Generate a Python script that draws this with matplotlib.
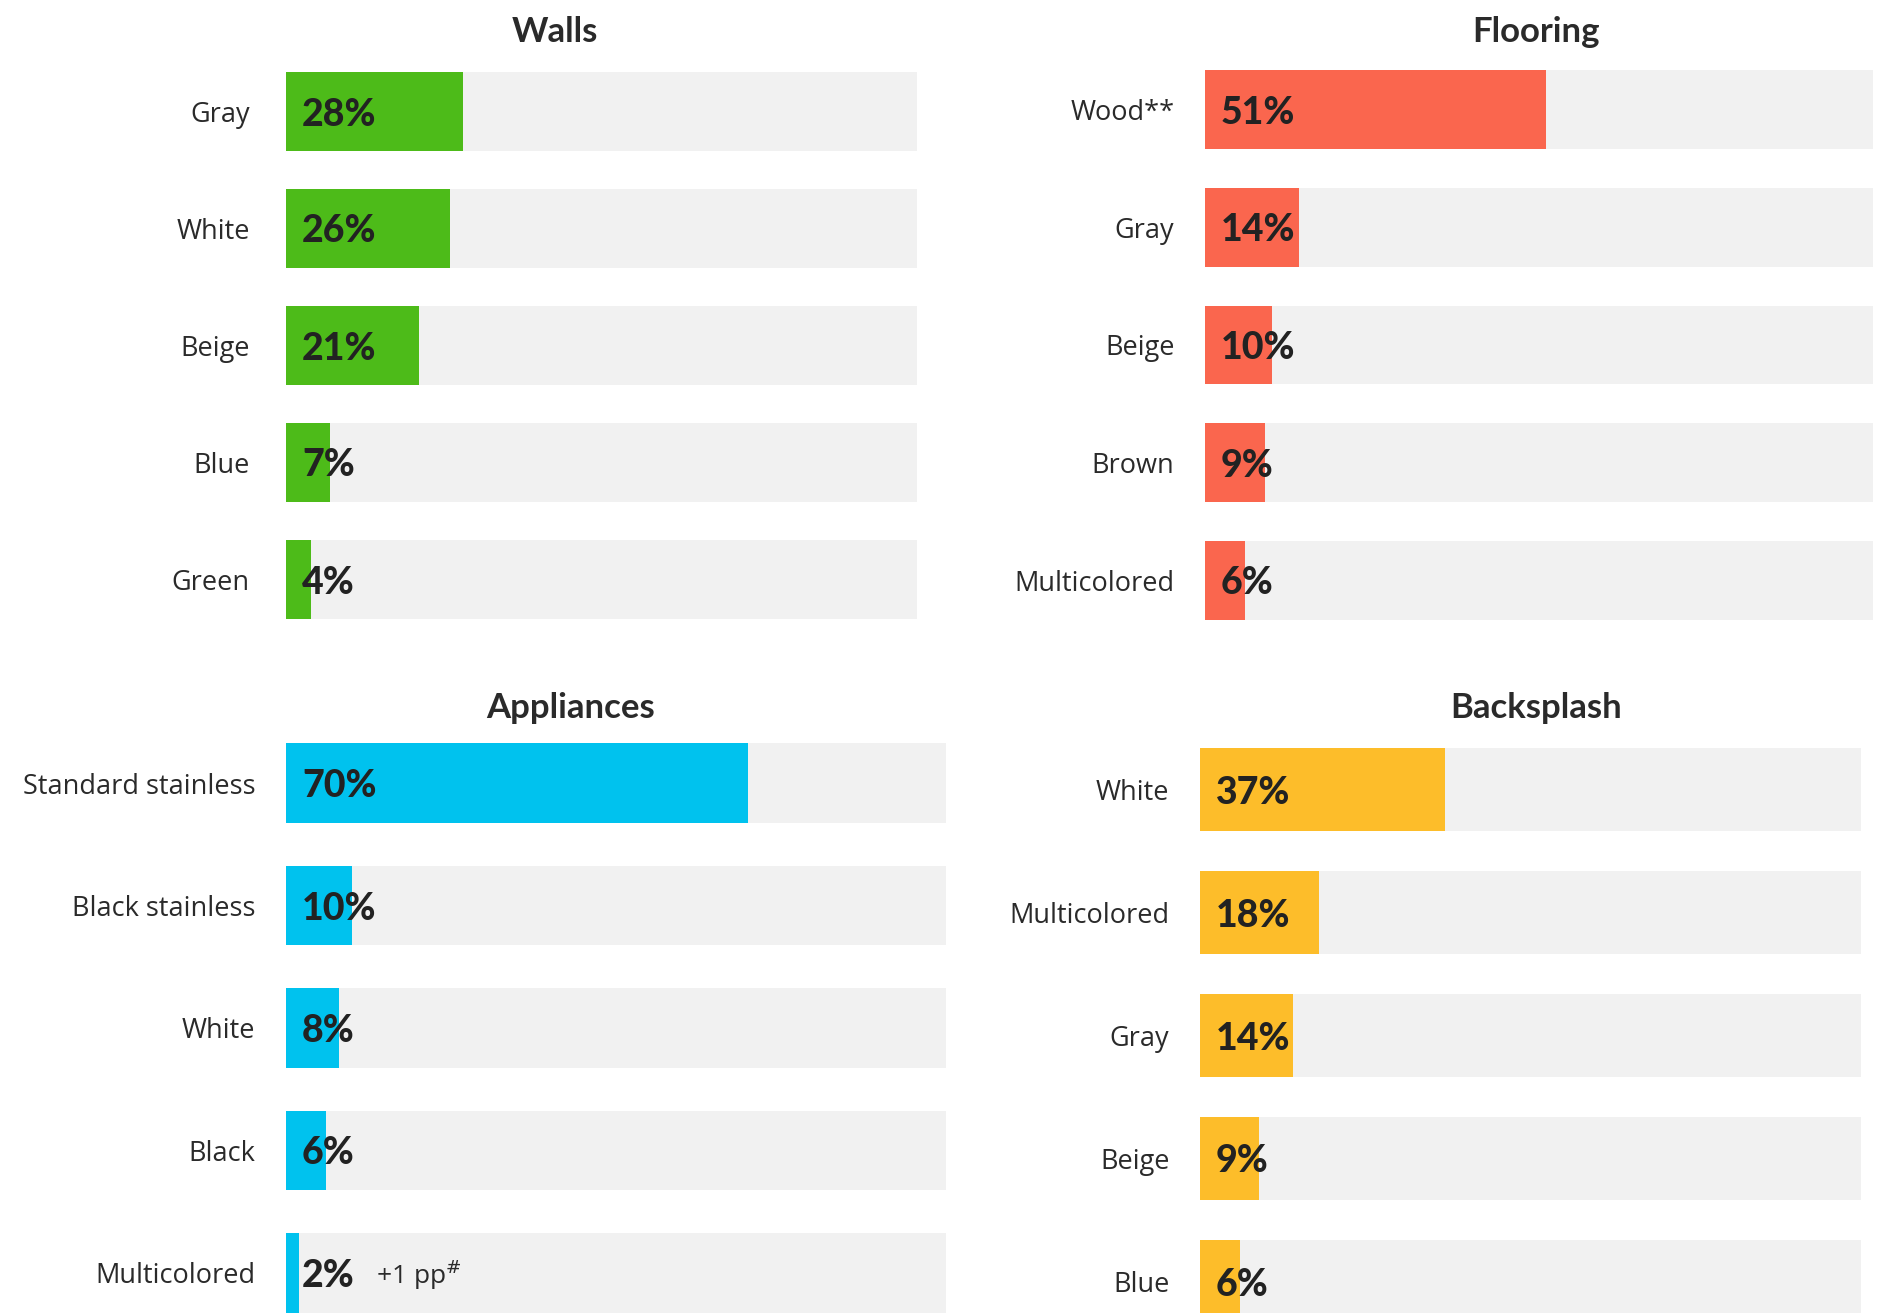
import matplotlib.pyplot as plt
import numpy as np

plt.rcParams['font.family'] = ['Lato', 'DejaVu Sans']

# data
walls_labels = ['Gray', 'White', 'Beige', 'Blue', 'Green']
walls_values = [28, 26, 21, 7, 4]

flooring_labels = ['Wood**', 'Gray', 'Beige', 'Brown', 'Multicolored']
flooring_values = [51, 14, 10, 9, 6]

appliances_labels = ['Standard stainless', 'Black stainless', 'White', 'Black', 'Multicolored']
appliances_values = [70, 10, 8, 6, 2]

backsplash_labels = ['White', 'Multicolored', 'Gray', 'Beige', 'Blue']
backsplash_values = [37, 18, 14, 9, 6]

W, H = 1885, 1313
fig = plt.figure(figsize=(W / 100, H / 100), dpi=100)
TRACK = '#f1f1f1'
DARK = '#222222'


def panel(left, right, top, bottom, labels, values, color, title, title_x, title_y, pad, bar_h):
    # pixel box -> figure fraction
    ax = fig.add_axes([left / W, 1 - bottom / H, (right - left) / W, (bottom - top) / H])
    y = np.arange(len(labels))
    ax.barh(y, [100] * len(labels), height=bar_h, color=TRACK)
    ax.barh(y, values, height=bar_h, color=color)
    ax.set_xlim(0, 100)
    ax.set_ylim(len(labels) - 0.5, -0.5)
    ax.set_yticks(y)
    ax.set_yticklabels(labels, fontsize=19.5, color='#2a2a2a', family=['Open Sans', 'DejaVu Sans'])
    ax.tick_params(axis='y', length=0, pad=pad)
    ax.set_xticks([])
    for s in ax.spines.values():
        s.set_visible(False)
    for i, v in enumerate(values):
        ax.annotate(f'{v}%', (0, i), xytext=(16, -3), textcoords='offset pixels',
                    ha='left', va='center', fontsize=27, fontweight='black', color=DARK)
    fig.text(title_x / W, 1 - title_y / H, title, ha='center', va='center',
             fontsize=25, fontweight='bold', color='#2a2a2a')
    return ax


panel(286, 917, 53, 638, walls_labels, walls_values, '#4dbb19', 'Walls', 555, 32, 26, 0.67)
panel(1205, 1873, 51, 639, flooring_labels, flooring_values, '#fa664e', 'Flooring', 1536, 32, 22, 0.67)
ax_app = panel(286, 946, 722, 1334, appliances_labels, appliances_values, '#00c2ee',
               'Appliances', 571, 708, 22, 0.65)
panel(1200, 1861, 728, 1343, backsplash_labels, backsplash_values, '#fdbd2a',
      'Backsplash', 1536, 708, 22, 0.67)

ax_app.annotate(r'+1 pp$^{\#}$', (0, 4), xytext=(90, -2), textcoords='offset pixels',
                ha='left', va='center', fontsize=19, color='#2a2a2a',
                family=['Open Sans', 'DejaVu Sans'])

fig.savefig('out.png', dpi=100)
